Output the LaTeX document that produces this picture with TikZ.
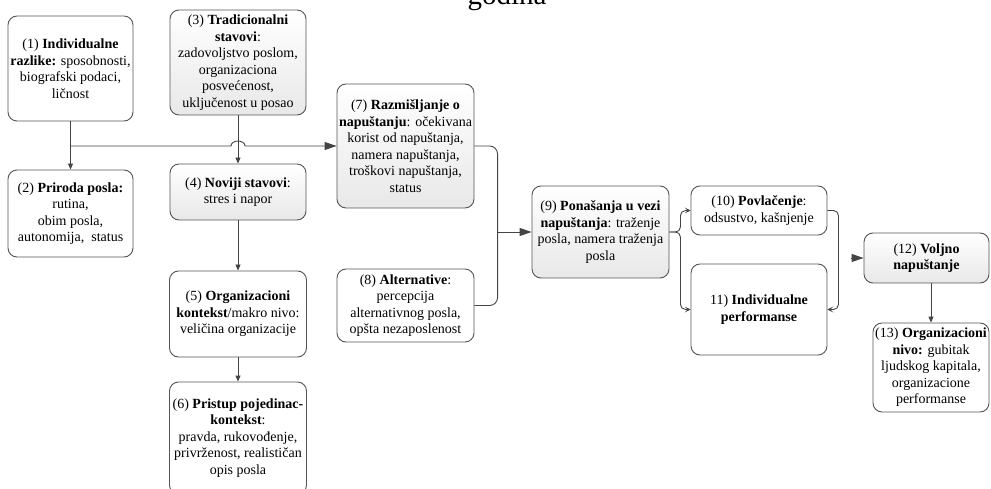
\documentclass[tikz,border=0pt]{standalone}
\usepackage{fontspec}
\setmainfont{Liberation Serif}
\usetikzlibrary{arrows.meta}
\definecolor{linecolor}{RGB}{68,68,68}
\definecolor{boxcolor}{RGB}{85,85,85}
\definecolor{shadecolor}{RGB}{232,232,232}

\begin{document}
\begin{tikzpicture}[
    x=1pt, y=-1pt,
    box/.style={draw=boxcolor, line width=0.9pt, rounded corners=9pt, fill=white,
        align=center, inner sep=2pt, font=\fontsize{14}{16.5}\selectfont},
    shadebox/.style={box, top color=white, bottom color=shadecolor},
    link/.style={draw=linecolor, line width=0.9pt},
    arr/.style={link, -{Triangle[length=12pt,width=8pt]}},
    varr/.style={link, -{Triangle[length=6pt,width=5pt]}},
    barb/.style={link, -{Stealth[length=6pt,width=6pt,inset=3pt]}}
]
\useasboundingbox (0,0) rectangle (991,489);

% caption line cut by the top edge
\node[font=\fontsize{29}{29}\selectfont, anchor=base] (title) at (507,5) {godina};

% left column
\node[box, minimum width=125, minimum height=105] (n1) at (70.5,68.5)
    {(1) \textbf{Individualne}\\ \textbf{razlike:} sposobnosti,\\ biografski podaci,\\ ličnost};
\node[box, minimum width=125, minimum height=87] (n2) at (70.5,213.5)
    {(2) \textbf{Priroda posla:}\\ rutina,\\ obim posla,\\ autonomija,~ status};

% middle column
\node[shadebox, minimum width=136, minimum height=105] (n3) at (238,62.5)
    {(3) \textbf{Tradicionalni}\\ \textbf{stavovi}:\\ zadovoljstvo poslom,\\ organizaciona\\ posvećenost,\\ uključenost u posao};
\node[shadebox, minimum width=136, minimum height=56] (n4) at (238,192)
    {(4) \textbf{Noviji stavovi}:\\ stres i napor};
\node[box, minimum width=137, minimum height=86] (n5) at (238,314)
    {(5) \textbf{Organizacioni}\\ \textbf{kontekst}/makro nivo:\\ veličina organizacije};
\node[box, minimum width=137, minimum height=112] (n6) at (238,438)
    {(6) \textbf{Pristup pojedinac-}\\ \textbf{kontekst}:\\ pravda, rukovođenje,\\ privrženost, realističan\\ opis posla};

% withdrawal cognitions
\node[shadebox, minimum width=137, minimum height=124] (n7) at (405.5,146)
    {(7) \textbf{Razmišljanje o}\\ \textbf{napuštanju}: očekivana\\ korist od napuštanja,\\ namera napuštanja,\\ troškovi napuštanja,\\ status};
\node[box, minimum width=137, minimum height=73] (n8) at (405.5,305.5)
    {(8) \textbf{Alternative}:\\ percepcija\\ alternativnog posla,\\ opšta nezaposlenost};

% behaviour and outcomes
\node[shadebox, minimum width=137, minimum height=92] (n9) at (600.5,232)
    {(9) \textbf{Ponašanja u vezi}\\ \textbf{napuštanja}: traženje\\ posla, namera traženja\\ posla};
\node[box, minimum width=136, minimum height=49] (n10) at (759,210.5)
    {(10) \textbf{Povlačenje}:\\ odsustvo, kašnjenje};
\node[box, minimum width=136, minimum height=91] (n11) at (759,309.5)
    {11) \textbf{Individualne}\\ \textbf{performanse}};
\node[shadebox, minimum width=125, minimum height=50] (n12) at (926.5,258)
    {(12) \textbf{Voljno}\\ \textbf{napuštanje}};
\node[box, minimum width=116, minimum height=89] (n13) at (931,367.5)
    {(13) \textbf{Organizacioni}\\ \textbf{nivo:} gubitak\\ ljudskog kapitala,\\ organizacione\\ performanse};

% helper points
\coordinate (hop) at (n3.south |- n7.west);
\coordinate (j79) at ([xshift=-34]n9.west);
\coordinate (j9) at ([xshift=11]n9.east);
\coordinate (j10) at ([xshift=11]n10.east);
\coordinate (c12) at ([xshift=-13]n12.west);

% connectors
\draw[varr] (n1.south) -- (n2.north);
\draw[arr] (n1.south) |- ([xshift=-7]hop)
    arc[start angle=180, end angle=360, x radius=7, y radius=5] -- (n7.west);
\draw[varr] (n3.south) -- (n4.north);
\draw[varr] (n4.south) -- (n5.north);
\draw[varr] (n5.south) -- (n6.north);

\draw[link, rounded corners=8] (n7.east) -| (j79);
\draw[link, rounded corners=8] (n8.east) -| (j79);
\draw[arr] (j79) -- (n9.west);

\draw[barb, rounded corners=5] (n9.east) -| (j9 |- n10.west) -- (n10.west);
\draw[barb, rounded corners=5] (n9.east) -| (j9 |- n11.west) -- (n11.west);
\draw[barb, rounded corners=5] (n10.east) -| (j10 |- n11.east) -- (n11.east);

\draw[arr] (c12) -- (n12.west);
\draw[varr] (n13.north |- n12.south) -- (n13.north);

\end{tikzpicture}
\end{document}
